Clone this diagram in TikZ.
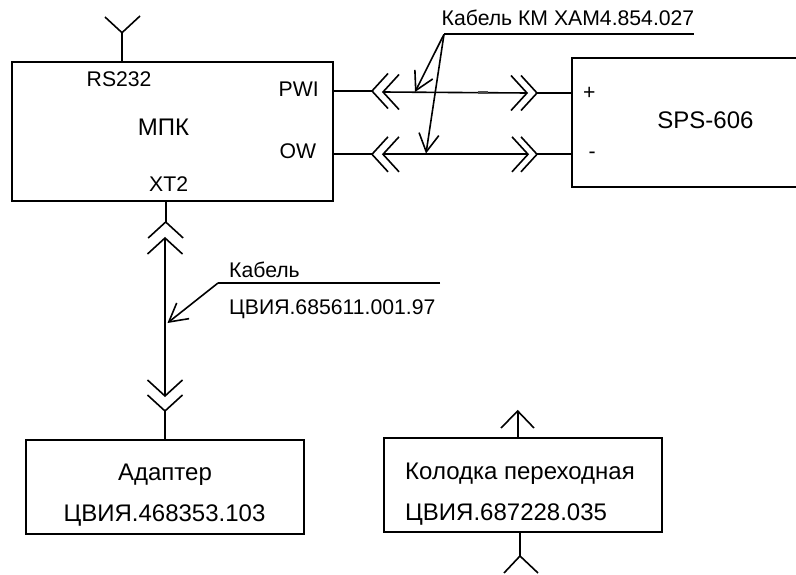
\documentclass[tikz,border=0pt]{standalone}
\usepackage{fontspec}
\setmainfont{Liberation Sans}
\usetikzlibrary{arrows.meta}

\tikzset{
  wire/.style={line width=1.6pt, line join=miter},
  leader/.style={wire, -{Straight Barb[length=18pt,width=20pt]}},
  box/.style={draw, line width=1.6pt, rectangle, inner sep=0pt},
  lbl/.style={inner sep=0pt, anchor=base west, font=\fontsize{21.2}{25}\selectfont},
  biglbl/.style={inner sep=0pt, anchor=base, font=\fontsize{24}{28}\selectfont},
}

\begin{document}
\begin{tikzpicture}[x=1pt, y=-1pt]
\useasboundingbox (0,0) rectangle (796,575);

% Boxes
\node[box, minimum width=321pt, minimum height=139pt] (mpk) at (172.2,131.5) {};
\node[box, minimum width=278pt, minimum height=94pt] (adapter) at (164.8,487) {};
\node[box, minimum width=278pt, minimum height=94pt] (kolodka) at (523,485) {};
\node[box, minimum width=228pt, minimum height=129pt] (sps) at (686,122.5) {};

% Box texts
\node[biglbl] (mpkname) at (163.5,136) {МПК};
\node[biglbl] (spsname) at (705.5,129) {SPS-606};
\node[biglbl] (adaptername) at (165,480) {Адаптер};
\node[biglbl] (adaptercode) at (164.5,521.5) {ЦВИЯ.468353.103};
\node[biglbl, anchor=base west] (kolodkaname) at (405,479) {Колодка переходная};
\node[biglbl, anchor=base west] (kolodkacode) at (405,520) {ЦВИЯ.687228.035};

% Port labels
\node[lbl] (rs) at (86.5,87) {RS232};
\node[lbl] (pwi) at (278.5,97) {PWI};
\node[lbl] (ow) at (279.5,159) {OW};
\node[lbl] (xt) at (149,192) {XT2};
\node[lbl] (plus) at (583,100) {+};
\node[lbl] (minus) at (588.5,158.5) {-};

% Cable labels
\node[lbl] (kmlabel) at (441.5,26) {Кабель КМ ХАМ4.854.027};
\node[lbl] (cablelabel) at (229,277) {Кабель};
\node[lbl] (cablecode) at (229,314) {ЦВИЯ.685611.001.97};

% Free ends
\coordinate (pwiL) at (372,91);
\coordinate (pwiLi) at (383,92);
\coordinate (pwiRi) at (527,93);
\coordinate (pwiR) at (537,93);
\coordinate (owL) at (372,154.3);
\coordinate (owLi) at (383,154.3);
\coordinate (owRi) at (528,154.3);
\coordinate (owR) at (537,154.3);
\coordinate (xtU) at (165.7,222);
\coordinate (xtUi) at (165,238);
\coordinate (xtDi) at (165,396);
\coordinate (xtD) at (165,411);
\coordinate (antMpk) at (122,32.7);
\coordinate (antKt) at (517.7,411);
\coordinate (antKb) at (520,556);
\coordinate (kmL) at (444,34.3);
\coordinate (kmR) at (694,34.3);
\coordinate (tipPwi) at (415,92);
\coordinate (tipOw) at (426,153.5);
\coordinate (cabL) at (218,283);
\coordinate (cabR) at (440,283);
\coordinate (tipCab) at (167.5,323);

% Wires
\draw[wire] (mpk.east |- pwiL) -- (pwiL);
\draw[wire] (pwiLi) -- (pwiRi);
\draw[wire] (pwiR) -- (sps.west |- pwiR);
\draw[line width=2.6pt, black!70] (478,92.6) -- (488,92.6);
\draw[wire] (mpk.east |- owL) -- (owL);
\draw[wire] (owLi) -- (owRi);
\draw[wire] (owR) -- (sps.west |- owR);
\draw[wire] (mpk.south -| xtU) -- (xtU);
\draw[wire] (xtUi) -- (xtDi);
\draw[wire] (xtD) -- (adapter.north -| xtD);

% Plugs
\foreach \x/\y/\r in {372/91/90, 383/92/90, 527/93/-90, 537/93/-90,
                      372/154.3/90, 383/154.3/90, 528/154.3/-90, 537/154.3/-90,
                      165.7/222/0, 165/238/0, 165/396/180, 165/411/180} {
    \draw[wire, shift={(\x,\y)}, rotate=\r] (-17.5,16) -- (0,0) -- (17.5,16);
}

% Antennas
\draw[wire] (mpk.north -| antMpk) -- (antMpk);
\draw[wire] (105,17) -- (antMpk) -- (140,16);
\draw[wire] (kolodka.north -| antKt) -- (antKt);
\draw[wire] (501,428) -- (antKt) -- (534,428);
\draw[wire] (kolodka.south -| antKb) -- (antKb);
\draw[wire] (504,573) -- (antKb) -- (538,573);

% Leaders
\draw[wire] (kmL) -- (kmR);
\draw[leader] (kmL) -- (tipPwi);
\draw[leader] (kmL) -- (tipOw);
\draw[wire] (cabR) -- (cabL);
\draw[leader] (cabL) -- (tipCab);
\end{tikzpicture}
\end{document}
